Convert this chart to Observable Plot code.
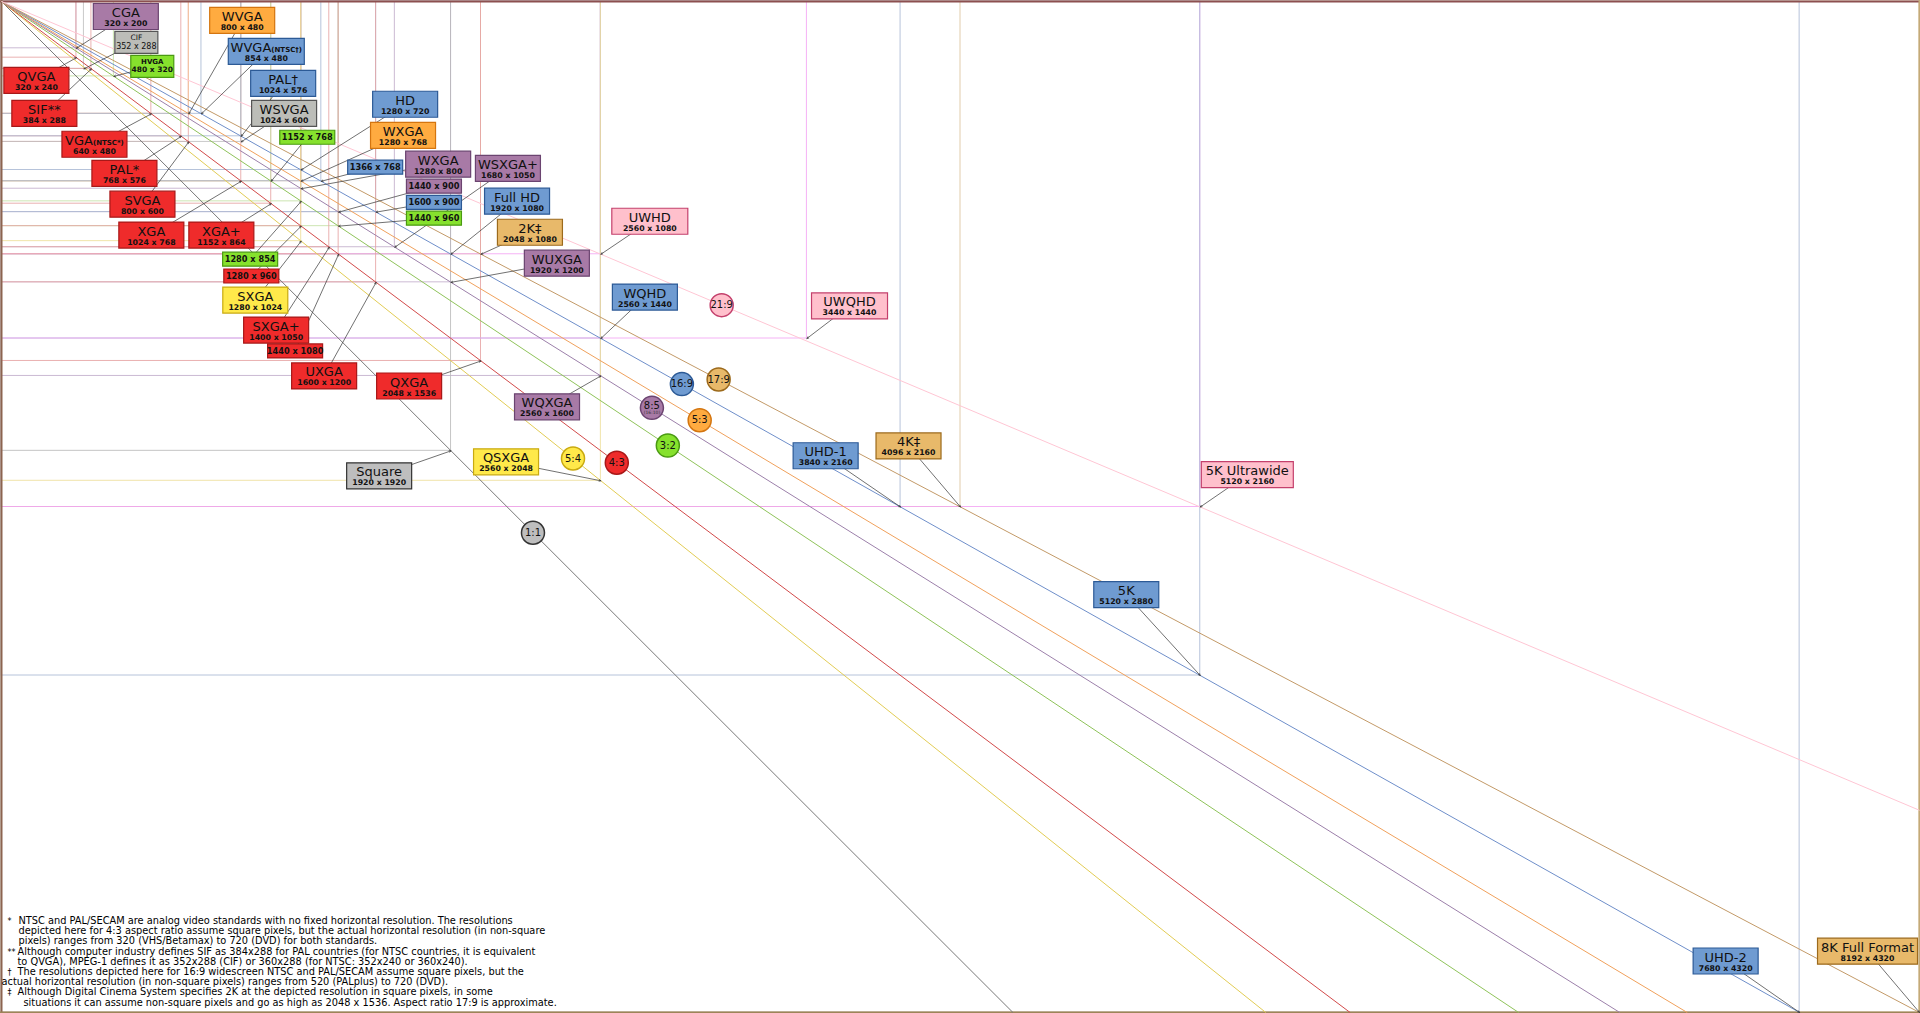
<!DOCTYPE html>
<html><head><meta charset="utf-8">
<script src="https://cdn.jsdelivr.net/npm/d3@7"></script>
<script src="https://cdn.jsdelivr.net/npm/@observablehq/plot@0.6"></script>
<style>html,body{margin:0;padding:0;background:#fff;overflow:hidden}#chart svg{display:block}</style>
</head><body><div id="chart"></div>
<script>
// ---- data ----
const resNames = ["CGA","CIF","HVGA","QVGA","SIF**","VGA(NTSC*)","PAL*","SVGA","XGA","XGA+",
  "WVGA","WVGA(NTSC†)","PAL†","WSVGA","","HD","WXGA","","WXGA","","","","WSXGA+","Full HD","2K‡","WUXGA","UWHD",
  "","","SXGA","SXGA+","","UXGA","QXGA","WQHD","WQXGA","Square","QSXGA","UWQHD","UHD-1","4K‡","5K Ultrawide","5K","UHD-2","8K Full Format"];
const resWidths = [320,352,480,320,384,640,768,800,1024,1152,
  800,854,1024,1024,1152,1280,1280,1366,1280,1440,1600,1440,1680,1920,2048,1920,2560,
  1280,1280,1280,1400,1440,1600,2048,2560,2560,1920,2560,3440,3840,4096,5120,5120,7680,8192];
const resHeights = [200,288,320,240,288,480,576,600,768,864,
  480,480,576,600,768,720,768,768,800,900,900,960,1050,1080,1080,1200,1080,
  854,960,1024,1050,1080,1200,1536,1440,1600,1920,2048,1440,2160,2160,2160,2880,4320,4320];
const resAspect = ["8:5","other","3:2","4:3","4:3","4:3","4:3","4:3","4:3","4:3",
  "5:3","16:9","16:9","other","3:2","16:9","5:3","16:9","8:5","8:5","16:9","3:2","8:5","16:9","17:9","8:5","21:9",
  "3:2","4:3","5:4","4:3","4:3","4:3","4:3","16:9","8:5","1:1","5:4","21:9","16:9","17:9","21:9","16:9","16:9","17:9"];

// label layout (label centres, in the chart's own pixel-resolution units) and box kind
const labelX = [531,576,644,149,183,397,525,602,640,939,
  1028,1131,1203,1207,1306,1724,1715,1596,1865,1847,1847,1847,2163,2202,2257,2372,2769,
  1062,1067,1084,1173,1254,1378,1741,2748,2330,1613,2155,3622,3520,3874,5321,4804,7364,7970];
const labelY = [64,175,277,337,478,610,734,866,998,998,
  81,213,350,478,580,439,572,708,695,789,858,926,713,853,986,1118,939,
  1101,1173,1276,1404,1493,1600,1643,1263,1732,2027,1967,1301,1941,1899,2022,2534,4100,4058];
const labelKind = ["L","T","T","L","L","L","L","L","L","L",
  "L","W","L","L","S","L","L","S","L","S","S","S","L","L","L","L","W",
  "S","S","L","L","S","L","L","L","L","L","L","W","L","L","UW","L","L","FF"];

// aspect-ratio guide lines and their labels
const ratioKeys   = ["1:1","5:4","4:3","3:2","8:5","5:3","16:9","17:9","21:9"];
const ratioWide   = [1920,2560,1600,1440,1920,1280,3840,8192,5120];
const ratioHigh   = [1920,2048,1200, 960,1200, 768,2160,4320,2160];
const ratioLabelX = [2270,2441,2628,2846,2778,2982,2906,3063,3076];

const footSymbols = ["*","","","**","","†","","‡",""];
const footLines = [
  "NTSC and PAL/SECAM are analog video standards with no fixed horizontal resolution. The resolutions",
  "depicted here for 4:3 aspect ratio assume square pixels, but the actual horizontal resolution (in non-square",
  "pixels) ranges from 320 (VHS/Betamax) to 720 (DVD) for both standards.",
  "Although computer industry defines SIF as 384x288 for PAL countries (for NTSC countries, it is equivalent",
  "to QVGA), MPEG-1 defines it as 352x288 (CIF) or 360x288 (for NTSC: 352x240 or 360x240).",
  "The resolutions depicted here for 16:9 widescreen NTSC and PAL/SECAM assume square pixels, but the",
  "actual horizontal resolution (in non-square pixels) ranges from 520 (PALplus) to 720 (DVD).",
  "Although Digital Cinema System specifies 2K at the depicted resolution in square pixels, in some",
  "situations it can assume non-square pixels and go as high as 2048 x 1536. Aspect ratio 17:9 is approximate."
];
const footIndent = [18,18,18,17,17,17,1,17,23];

// ---- styles ----
const fillColor = {"1:1":"#bebebe","5:4":"#ffe94a","4:3":"#ef2b2b","3:2":"#86e12d","8:5":"#a87aa6","5:3":"#ffab40","16:9":"#6f9bd1","17:9":"#e8b96a","21:9":"#ffc0cc","other":"#bcbdb8"};
const boxStroke = {"1:1":"#333333","5:4":"#c9aa10","4:3":"#a81818","3:2":"#4a9a12","8:5":"#6b4470","5:3":"#d4750f","16:9":"#2c5a96","17:9":"#9c6a1c","21:9":"#c4406c","other":"#555555"};
const lineColor = {"1:1":"#787878","5:4":"#e2cc55","4:3":"#d24a4a","3:2":"#8fc35a","8:5":"#9c80aa","5:3":"#f0a15c","16:9":"#6f8fca","17:9":"#c39a68","21:9":"#ffc6d4"};
const rectColor = {"1:1":"#bbbbbb","5:4":"#eddf9a","4:3":"#e6a3a3","3:2":"#c4e0a4","8:5":"#c2aecb","5:3":"#f4c69a","16:9":"#a9b9d3","17:9":"#dcc39c","21:9":"#f3a5f3","other":"#c0c0c0"};

const XMAX = 8192, YMAX = 4320;
const res = resNames.map((name, i) => ({
  name, w: resWidths[i], h: resHeights[i], ar: resAspect[i],
  lx: labelX[i], ly: labelY[i], kind: labelKind[i], label: `${resWidths[i]} x ${resHeights[i]}`
}));
const ratios = ratioKeys.map((k, i) => {
  const r = ratioWide[i] / ratioHigh[i];
  const x2 = Math.min(XMAX, YMAX * r);
  return {k, r, x2, y2: x2 / r, cx: ratioLabelX[i], cy: ratioLabelX[i] / r};
});

const boxSize = {L:[65,26], W:[76,26], UW:[92,26], FF:[100,26], S:[55,14], T:[43,22]};
const rectSymbol = ([bw, bh]) => ({draw(ctx) { ctx.rect(-bw / 2, -bh / 2, bw, bh); }});

const canvas = document.createElement("canvas").getContext("2d");
function textW(t, font) { canvas.font = font; return canvas.measureText(t).width; }

const FONT = "DejaVu Sans";
const NAME_SIZE = 13;
const bigKinds = ["L","W","UW","FF"];
const big = res.filter(d => bigKinds.includes(d.kind));
const plain = big.filter(d => !/\(/.test(d.name));
const split = big.filter(d => /\(/.test(d.name)).map(d => {
  const m = d.name.match(/^(.*?)(\(.*\))$/);
  const a = textW(m[1], `${NAME_SIZE}px "${FONT}"`), b = textW(m[2], `bold 7px "${FONT}"`);
  return {...d, main: m[1], suf: m[2], off: -(a + b) / 2 + a};
});

const marks = [
  // rectangles of each resolution
  Plot.rect(res, {x1: 0, y1: 0, x2: "w", y2: "h", fill: "none", stroke: d => rectColor[d.ar], strokeOpacity: 0.85, strokeWidth: 1}),
  // outer frame edges
  Plot.ruleY([0], {stroke: "#8c5050", strokeWidth: 2}),
  Plot.ruleX([0], {stroke: "#8c6450", strokeWidth: 2}),
  Plot.ruleY([YMAX], {stroke: "#9c8458", strokeWidth: 2}),
  Plot.ruleX([XMAX], {stroke: "#c4aa78", strokeWidth: 2}),
  // aspect ratio guide lines
  Plot.link(ratios, {x1: 0, y1: 0, x2: "x2", y2: "y2", stroke: d => lineColor[d.k], strokeWidth: 1}),
  // arrows from labels to corners
  Plot.arrow(res, {x1: "lx", y1: "ly", x2: "w", y2: "h", stroke: "#333", strokeWidth: 0.7, headLength: 4, headAngle: 50}),
];
for (const kind of Object.keys(boxSize)) {
  marks.push(Plot.dot(res.filter(d => d.kind === kind), {x: "lx", y: "ly", symbol: rectSymbol(boxSize[kind]),
    fill: d => fillColor[d.ar], stroke: d => boxStroke[d.ar], strokeWidth: 1.2, fillOpacity: 1}));
}
marks.push(
  Plot.text(plain, {x: "lx", y: "ly", text: "name", lineAnchor: "bottom", dy: 0.5, fontSize: NAME_SIZE, fill: "#111", fontFamily: FONT}),
  Plot.text(big, {x: "lx", y: "ly", text: "label", lineAnchor: "bottom", dy: 9.5, fontSize: 7.8, fontWeight: "bold", fill: "#111", fontFamily: FONT}),
  Plot.text(res.filter(d => d.kind === "S"), {x: "lx", y: "ly", text: "label", lineAnchor: "middle", dy: 0.5, fontSize: 8.2, fontWeight: "bold", fill: "#111", fontFamily: FONT}),
  Plot.text(res.filter(d => d.name === "CIF"), {x: "lx", y: "ly", text: "name", lineAnchor: "bottom", dy: -2.5, fontSize: 7.5, fill: "#111", fontFamily: FONT}),
  Plot.text(res.filter(d => d.name === "CIF"), {x: "lx", y: "ly", text: "label", lineAnchor: "bottom", dy: 6.5, fontSize: 8, fill: "#111", fontFamily: FONT}),
  Plot.text(res.filter(d => d.name === "HVGA"), {x: "lx", y: "ly", text: "name", lineAnchor: "bottom", dy: -2.5, fontSize: 7, fontWeight: "bold", fill: "#111", fontFamily: FONT}),
  Plot.text(res.filter(d => d.name === "HVGA"), {x: "lx", y: "ly", text: "label", lineAnchor: "bottom", dy: 6, fontSize: 7.5, fontWeight: "bold", fill: "#111", fontFamily: FONT}),
  // aspect ratio circles
  Plot.dot(ratios, {x: "cx", y: "cy", r: 11.5, fill: d => fillColor[d.k], stroke: d => boxStroke[d.k], strokeWidth: 1.5}),
  Plot.text(ratios.filter(d => d.k !== "8:5"), {x: "cx", y: "cy", text: "k", lineAnchor: "middle", fontSize: 10, fill: "#111", fontFamily: FONT}),
  Plot.text(ratios.filter(d => d.k === "8:5"), {x: "cx", y: "cy", text: "k", lineAnchor: "middle", dy: -2, fontSize: 10, fill: "#111", fontFamily: FONT}),
  Plot.text(ratios.filter(d => d.k === "8:5"), {x: "cx", y: "cy", text: d => "(16:10)", lineAnchor: "middle", dy: 5, fontSize: 4.5, fill: "#333", fontFamily: FONT})
);
// split names (VGA(NTSC*), WVGA(NTSC†))
for (const d of split) {
  marks.push(Plot.text([d], {x: "lx", y: "ly", text: "main", lineAnchor: "bottom", textAnchor: "end", dx: d.off, dy: 0.5, fontSize: NAME_SIZE, fill: "#111", fontFamily: FONT}));
  marks.push(Plot.text([d], {x: "lx", y: "ly", text: "suf", lineAnchor: "bottom", textAnchor: "start", dx: d.off, dy: 0.5, fontSize: 7, fontWeight: "bold", fill: "#111", fontFamily: FONT}));
}
// footnotes
footLines.forEach((t, i) => {
  const base = 923.5 + i * 10.2;
  if (footSymbols[i]) marks.push(Plot.text([footSymbols[i]], {frameAnchor: "top-left", dx: 7, dy: base, text: d => d, lineAnchor: "bottom", textAnchor: "start", fontSize: 8, fill: "#000", fontFamily: FONT}));
  marks.push(Plot.text([t], {frameAnchor: "top-left", dx: footIndent[i], dy: base, text: d => d, lineAnchor: "bottom", textAnchor: "start", fontSize: 9.8, fill: "#000", fontFamily: FONT}));
});

const chart = Plot.plot({
  width: 1920, height: 1013, margin: 0,
  x: {domain: [0, XMAX], range: [1, 1919], axis: null},
  y: {domain: [0, YMAX], range: [1, 1012], axis: null},
  color: {type: "identity"},
  style: {background: "#fff", fontFamily: FONT, overflow: "visible"},
  marks
});
document.getElementById("chart").append(chart);
</script></body></html>
